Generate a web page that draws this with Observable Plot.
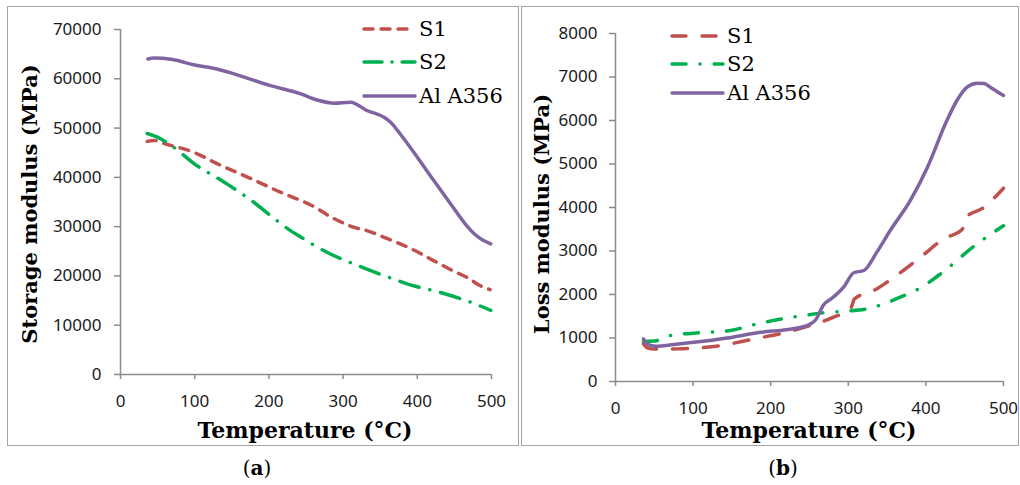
<!DOCTYPE html>
<html>
<head>
<meta charset="utf-8">
<script src="https://cdn.jsdelivr.net/npm/d3@7"></script>
<script src="https://cdn.jsdelivr.net/npm/@observablehq/plot@0.6"></script>
<style>
  html, body { margin: 0; padding: 0; background: #fff; }
  body { position: relative; width: 1020px; height: 485px; overflow: hidden; }
  .box { position: absolute; border: 1.5px solid #a6a6a6; box-sizing: border-box; }
  .plot { position: absolute; }
  .xt { position: absolute; font-family: "DejaVu Serif", serif; font-weight: bold; font-size: 22px; color: #000; transform: translate(-50%, -50%); white-space: nowrap; }
  .yt { position: absolute; font-family: "DejaVu Serif", serif; font-weight: bold; font-size: 21px; color: #000; transform: translate(-50%, -50%) rotate(-90deg); white-space: nowrap; }
  .cap { position: absolute; font-family: "DejaVu Serif", serif; font-size: 20px; color: #000; transform: translate(-50%, -50%); }
  .leg { position: absolute; font-family: "DejaVu Serif", serif; font-size: 21px; color: #000; }
  .leg div { position: absolute; white-space: nowrap; height: 24px; line-height: 24px; }
  .leg svg { position: absolute; }
</style>
</head>
<body>
<div class="box" style="left:7px;top:6px;width:512px;height:440px"></div>
<div class="box" style="left:521px;top:6px;width:498px;height:440px"></div>
<div id="pa" class="plot" style="left:8px;top:7px"></div>
<div id="pb" class="plot" style="left:522px;top:7px"></div>
<div class="xt" style="left:305px;top:430px">Temperature (°C)</div>
<div class="xt" style="left:809px;top:430px">Temperature (°C)</div>
<div class="yt" style="left:29px;top:204px">Storage modulus (MPa)</div>
<div class="yt" style="left:541px;top:214px">Loss modulus (MPa)</div>
<div class="cap" style="left:257px;top:468px">(<b>a</b>)</div>
<div class="cap" style="left:783px;top:468px">(<b>b</b>)</div>
<div id="lega" class="leg"></div>
<div id="legb" class="leg"></div>
<script>
// ---- Data ----
const seriesNames = ["S1", "S2", "Al A356"];
const seriesColors = ["#C0504D", "#00B050", "#8064A2"];

const xTicks = [0, 100, 200, 300, 400, 500];
const storageTicks = [0, 10000, 20000, 30000, 40000, 50000, 60000, 70000];
const lossTicks = [0, 1000, 2000, 3000, 4000, 5000, 6000, 7000, 8000];

// (a) Storage modulus
const s1StorageT = [36, 45, 58, 100, 130, 175, 220, 243, 255, 288, 314, 332, 359, 377, 400, 422, 450, 467, 485, 498];
const s1StorageV = [47300, 47500, 46900, 45000, 42800, 39800, 36700, 35300, 34500, 31600, 29900, 29200, 27600, 26500, 24900, 23100, 20900, 19700, 18000, 17200];
const s2StorageT = [36, 49, 70, 99, 140, 180, 200, 229, 243, 260, 288, 320, 346, 373, 395, 430, 458, 480, 499];
const s2StorageV = [48900, 48200, 46300, 42800, 39000, 34900, 32500, 29200, 27900, 26300, 24100, 22100, 20550, 19100, 18000, 16700, 15400, 14200, 13000];
const alStorageT = [37, 45, 70, 100, 130, 153, 200, 243, 265, 288, 310, 332, 355, 364, 377, 400, 422, 445, 467, 477, 488, 499];
const alStorageV = [64000, 64200, 63900, 62800, 62000, 61000, 58700, 56950, 55700, 55050, 55250, 53560, 52200, 51200, 48800, 44100, 39400, 34600, 30100, 28500, 27300, 26500];

// (b) Loss modulus
const s1LossT = [36, 41, 50, 80, 127, 183, 221, 251, 281, 303, 308, 333, 359, 393, 423, 447, 450, 475, 500];
const s1LossV = [870, 775, 745, 750, 805, 995, 1134, 1287, 1478, 1680, 1900, 2092, 2398, 2858, 3280, 3500, 3750, 4007, 4444];
const s2LossT = [36, 50, 71, 101, 148, 178, 208, 234, 268, 294, 324, 367, 393, 419, 466, 492, 500];
const s2LossV = [920, 930, 1057, 1111, 1172, 1303, 1418, 1494, 1579, 1616, 1671, 1938, 2154, 2476, 3165, 3487, 3580];
const alLossT = [36, 40, 45, 52, 75, 101, 144, 187, 220, 238, 251, 258, 268, 280, 294, 307, 320, 337, 354, 380, 402, 427, 440, 453, 466, 475, 483, 492, 500];
const alLossV = [980, 880, 830, 810, 850, 900, 1000, 1130, 1190, 1240, 1320, 1420, 1760, 1930, 2168, 2500, 2552, 2980, 3471, 4161, 4926, 6000, 6460, 6766, 6858, 6850, 6766, 6660, 6575];

// ---- helpers ----
const zip = (ts, vs) => ts.map((t, i) => ({t, v: vs[i]}));
const W = 3.5;

function makePanel({width, height, margins, yDomain, yTicks, series, dashes, tickPad}) {
  return Plot.plot({
    width, height,
    marginLeft: margins[0], marginRight: margins[1], marginTop: margins[2], marginBottom: margins[3],
    style: {fontFamily: "'Noto Sans', sans-serif", fontSize: "17px", color: "#1a1a1a", background: "transparent", overflow: "visible"},
    x: {domain: [0, 500]},
    y: {domain: yDomain},
    marks: [
      Plot.ruleX([0], {stroke: "#8c8c8c", strokeWidth: 1.5}),
      Plot.ruleY([0], {stroke: "#8c8c8c", strokeWidth: 1.5}),
      ...series.map((d, i) => Plot.line(d, {
        x: "t", y: "v", stroke: seriesColors[i], strokeWidth: W,
        strokeDasharray: dashes[i], strokeLinecap: "round", strokeLinejoin: "round", curve: "monotone-x"
      })),
      Plot.axisX({ticks: xTicks, tickSize: 5, tickPadding: 15, stroke: "#8c8c8c", strokeWidth: 1.5, label: null, tickFormat: d => String(d)}),
      Plot.axisY({ticks: yTicks, tickSize: 6, tickPadding: tickPad, stroke: "#8c8c8c", strokeWidth: 1.5, label: null, tickFormat: d => String(d)})
    ]
  });
}

const dashesA = ["9,8", "20,11,0.1,11", null];
const dashesB = ["15,16", "14,14,0.1,14", null];

document.getElementById("pa").append(makePanel({
  width: 510, height: 438, margins: [112, 27, 22, 71],
  yDomain: [0, 70000], yTicks: storageTicks, tickPad: 13,
  series: [zip(s1StorageT, s1StorageV), zip(s2StorageT, s2StorageV), zip(alStorageT, alStorageV)],
  dashes: dashesA
}));
document.getElementById("pb").append(makePanel({
  width: 496, height: 438, margins: [93, 15, 26, 64],
  yDomain: [0, 8000], yTicks: lossTicks, tickPad: 12,
  series: [zip(s1LossT, s1LossV), zip(s2LossT, s2LossV), zip(alLossT, alLossV)],
  dashes: dashesB
}));

// ---- legends ----
function legend(id, x0, x1, ys, dashes) {
  const el = document.getElementById(id);
  seriesNames.forEach((name, i) => {
    const svg = document.createElementNS("http://www.w3.org/2000/svg", "svg");
    svg.setAttribute("width", x1 - x0 + 8);
    svg.setAttribute("height", 10);
    svg.style.left = (x0 - 4) + "px";
    svg.style.top = (ys[i] - 5) + "px";
    const ln = document.createElementNS("http://www.w3.org/2000/svg", "line");
    ln.setAttribute("x1", 4); ln.setAttribute("x2", x1 - x0 + 4);
    ln.setAttribute("y1", 5); ln.setAttribute("y2", 5);
    ln.setAttribute("stroke", seriesColors[i]);
    ln.setAttribute("stroke-width", W);
    ln.setAttribute("stroke-linecap", "round");
    if (dashes[i]) ln.setAttribute("stroke-dasharray", dashes[i]);
    svg.append(ln);
    el.append(svg);
    const t = document.createElement("div");
    t.textContent = name;
    t.style.left = (x1 + 4) + "px";
    t.style.top = (ys[i] - 12) + "px";
    el.append(t);
  });
}
legend("lega", 364, 415, [29, 62, 96], ["9,8", "18,10,0.1,10", null]);
legend("legb", 672, 723, [36, 64, 93], ["14,16", "14,14,0.1,14", null]);
</script>
</body>
</html>
